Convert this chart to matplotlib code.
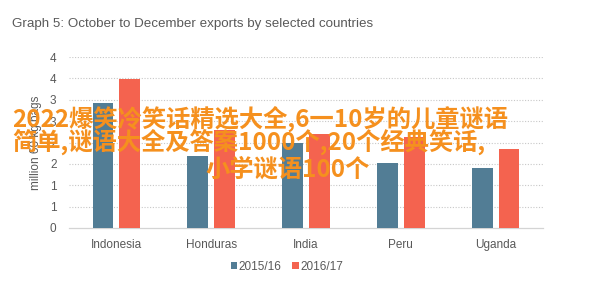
import matplotlib
matplotlib.use("Agg")
import matplotlib.pyplot as plt
import numpy as np
from matplotlib.patches import Patch

countries = ["Indonesia", "Honduras", "India", "Peru", "Uganda"]
series_names = ["2015/16", "2016/17"]
values_1516 = [2.92, 1.69, 2.00, 1.52, 1.40]
values_1617 = [3.48, 2.30, 2.19, 2.13, 1.84]
y_ticks = [0, 0.5, 1, 1.5, 2, 2.5, 3, 3.5, 4]
y_tick_labels = ["0", "1", "1", "2", "2", "3", "3", "4", "4"]
title = "Graph 5: October to December exports by selected countries"
y_label = "million 60 kg bags"
overlay_lines = ["2022爆笑冷笑话精选大全,6一10岁的儿童谜语",
                 "简单,谜语大全及答案1000个,20个经典笑话,",
                 "小学谜语100个"]

plt.rcParams["font.family"] = ["Liberation Sans", "DejaVu Sans"]

blue = "#527d95"
red = "#f4634f"
grey_text = "#595959"

W, H = 598, 283
fig = plt.figure(figsize=(W / 100, H / 100), dpi=100)
fig.patch.set_facecolor("white")
ax = fig.add_axes([69 / W, 1 - 228 / H, (543 - 69) / W, (228 - 57) / H])

x = np.arange(len(countries))
bw = 0.22
off = 0.142
ax.bar(x - off, values_1516, width=bw, color=blue, zorder=3)
ax.bar(x + off, values_1617, width=bw, color=red, zorder=3)

ax.set_xlim(-0.5, len(countries) - 0.5)
ax.set_ylim(0, 4)
ax.set_yticks(y_ticks)
ax.set_yticklabels(y_tick_labels)
ax.set_xticks(x)
ax.set_xticklabels(countries)
for t in y_ticks[1:]:
    ax.axhline(t, color="#c8c8c8", lw=0.8, ls=(0, (1, 1.5)), zorder=1)
ax.tick_params(axis="both", length=0, labelsize=8.5, colors=grey_text)
ax.tick_params(axis="y", pad=9)
ax.tick_params(axis="x", pad=8)
for s in ["left", "right", "top"]:
    ax.spines[s].set_visible(False)
ax.spines["bottom"].set_color("#d4d4d4")
ax.spines["bottom"].set_linewidth(0.9)
ax.set_ylabel(y_label, fontsize=8.5, color=grey_text, labelpad=6)

fig.text(12 / W, 1 - 18 / H, title, fontsize=9.6, color=grey_text, va="top", ha="left")

handles = [Patch(facecolor=blue), Patch(facecolor=red)]
fig.legend(handles, series_names, loc="center", bbox_to_anchor=(287 / W, 1 - 267 / H),
           ncol=2, frameon=False, fontsize=8.5, handlelength=0.55, handleheight=0.55,
           handletextpad=0.15, columnspacing=0.9, labelcolor=grey_text)

cjk = ["Noto Sans CJK SC", "DejaVu Sans"]
orange = "#f5901e"
fs = 17.5
fig.text(12 / W, 1 - 119 / H, overlay_lines[0], fontsize=fs, color=orange, family=cjk,
         va="center", ha="left", fontweight="bold")
fig.text(12 / W, 1 - 142 / H, overlay_lines[1], fontsize=fs, color=orange, family=cjk,
         va="center", ha="left", fontweight="bold")
fig.text(205 / W, 1 - 170 / H, overlay_lines[2], fontsize=fs, color=orange, family=cjk,
         va="center", ha="left", fontweight="bold")

fig.savefig("out.png", dpi=100)
